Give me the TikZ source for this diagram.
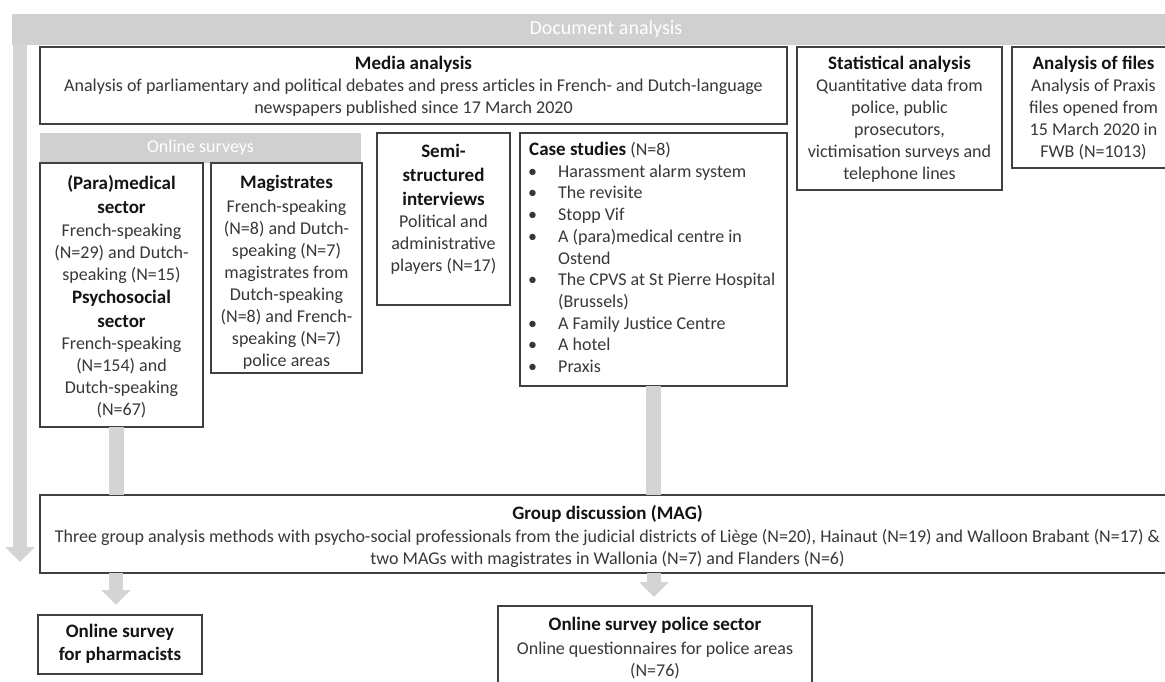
\documentclass[tikz,border=0pt]{standalone}
\usepackage{fontspec}
\setmainfont{Carlito}
\usetikzlibrary{arrows.meta}
\definecolor{bandgray}{RGB}{208,208,208}
\definecolor{arrowgray}{RGB}{212,212,212}
\definecolor{txtgray}{RGB}{56,56,56}
\definecolor{ttlblack}{RGB}{20,20,20}
\definecolor{edgegray}{RGB}{64,64,64}
\newcommand\bt[1]{{\color{ttlblack}\fontsize{19}{22}\bfseries #1}}
\newcommand\blt{\makebox[29pt][l]{\hspace{-1pt}\textbullet}}
\begin{document}
\begin{tikzpicture}[x=1pt,y=-1pt,
  box/.style={draw=edgegray, line width=1.4pt, fill=white, inner sep=0pt, outer sep=0pt, anchor=north west},
  bandbox/.style={fill=bandgray, inner sep=0pt, outer sep=0pt, anchor=north west, text=white, font=\fontsize{18}{20}\selectfont},
  body/.style={text=txtgray, font=\fontsize{18}{22}\selectfont, align=center, inner sep=0pt, anchor=north},
  listbody/.style={text=txtgray, font=\fontsize{18}{21.7}\selectfont, align=left, inner sep=0pt, anchor=north west},
  gbar/.style={draw=arrowgray, line width=15pt},
  garrow/.style={draw=arrowgray, line width=14pt, -{Triangle[length=15pt,width=29pt]}}
]
\useasboundingbox (0,0) rectangle (1165,682);
\clip (0,0) rectangle (1165,682);
\fill[white] (0,0) rectangle (1165,682);

% top band and left bar
\node[bandbox, minimum width=1188pt, minimum height=31pt, font=\fontsize{20}{22}\selectfont] (docband) at (12,14) {Document analysis};
\coordinate (lefttip) at (20,562);
\draw[garrow, shorten <=-1pt] (docband.south west -| lefttip) -- (lefttip);

% first row
\node[box, minimum width=747pt, minimum height=77pt] (media) at (40,47) {};
\node[body] (media-t) at (413.5,56) {\bt{Media analysis}\\[0pt]
Analysis of parliamentary and political debates and press articles in French- and Dutch-language\\
newspapers published since 17 March 2020};

\node[box, minimum width=205pt, minimum height=143pt] (stat) at (797,47) {};
\node[body] (stat-t) at (899.5,56) {\bt{Statistical analysis}\\
Quantitative data from\\ police, public\\ prosecutors,\\ victimisation surveys and\\ telephone lines};

\node[box, minimum width=163pt, minimum height=121pt] (files) at (1012,47) {};
\node[body] (files-t) at (1093.5,56) {\bt{Analysis of files}\\
Analysis of Praxis\\ files opened from\\ 15 March 2020 in\\ FWB (N=1013)};

% online surveys band
\node[bandbox, minimum width=321pt, minimum height=30pt] (online) at (40,133) {Online surveys};

\node[box, minimum width=163pt, minimum height=264pt] (para) at (40,163) {};
\node[body] (para-t) at (121.5,175) {\bt{(Para)medical}\\[2pt] \bt{sector}\\[1pt]
French-speaking\\ (N=29) and Dutch-\\ speaking (N=15)\\[1pt]
\bt{Psychosocial}\\[2pt] \bt{sector}\\
French-speaking\\ (N=154) and\\ Dutch-speaking\\ (N=67)};

\node[box, minimum width=151pt, minimum height=210pt] (mag) at (211,163) {};
\node[body] (mag-t) at (286.5,175) {\bt{Magistrates}\\[2pt]
French-speaking\\ (N=8) and Dutch-\\ speaking (N=7)\\ magistrates from\\ Dutch-speaking\\ (N=8) and French-\\ speaking (N=7)\\ police areas};

\node[box, minimum width=133pt, minimum height=172pt] (semi) at (377,133) {};
\node[body] (semi-t) at (443.5,144) {\bt{Semi-}\\[2pt] \bt{structured}\\[2pt] \bt{interviews}\\
Political and\\ administrative\\ players (N=17)};

\node[box, minimum width=267pt, minimum height=253pt] (case) at (520,133) {};
\node[listbody] (case-t) at (529,142) {\bt{Case studies} (N=8)\\
\blt Harassment alarm system\\
\blt The revisite\\
\blt Stopp Vif\\
\blt A (para)medical centre in\\
\hspace{29pt}Ostend\\
\blt The CPVS at St Pierre Hospital\\
\hspace{29pt}(Brussels)\\
\blt A Family Justice Centre\\
\blt A hotel\\
\blt Praxis};

% group discussion
\node[box, minimum width=1135pt, minimum height=78pt] (group) at (40,495) {};
\node[body] (group-t) at (607.5,505) {\bt{Group discussion (MAG)}\\[1pt]
Three group analysis methods with psycho-social professionals from the judicial districts of Liège (N=20), Hainaut (N=19) and Walloon Brabant (N=17) \&\\
two MAGs with magistrates in Wallonia (N=7) and Flanders (N=6)};

% connectors into group
\draw[gbar] ([xshift=-5.5pt]para.south) -- ([xshift=-5.5pt]para.south |- group.north);
\draw[gbar] (case.south) -- (case.south |- group.north);

% bottom boxes
\node[box, minimum width=164pt, minimum height=59pt] (pharm) at (38,615) {};
\node[body] (pharm-t) at (120,624) {\bt{Online survey}\\[1pt] \bt{for pharmacists}};

\node[box, minimum width=314pt, minimum height=100pt] (police) at (498,606) {};
\node[body] (police-t) at (655,617) {\bt{Online survey police sector}\\[2pt]
Online questionnaires for police areas\\ (N=76)};

\coordinate (pharmtip) at (116,605);
\coordinate (policetip) at (654,597);
\draw[garrow] (group.south -| pharmtip) -- (pharmtip);
\draw[garrow] (group.south -| policetip) -- (policetip);
\end{tikzpicture}
\end{document}
